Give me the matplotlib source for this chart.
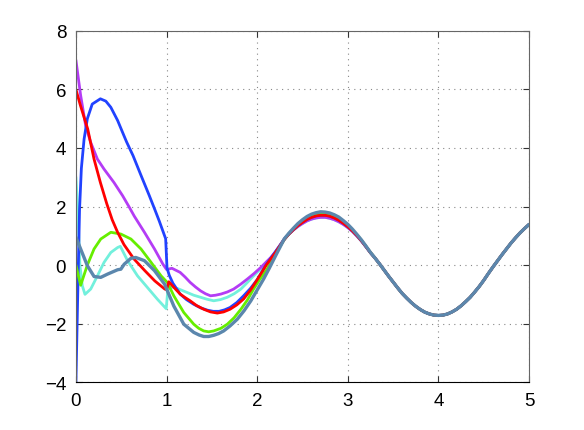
import matplotlib

matplotlib.use("Agg")
import matplotlib.pyplot as plt  # noqa: E402

# transient part of each solution
RED_X = [0, 0.05, 0.13, 0.2, 0.27, 0.34, 0.4, 0.46, 0.53, 0.64, 0.76, 0.87, 0.98, 1.0, 1.025,
         1.08, 1.15, 1.2, 1.26, 1.33, 1.41, 1.485, 1.56, 1.63, 1.7, 1.775, 1.85, 1.925, 2.0, 2.1, 2.2]
RED_Y = [6.0, 5.45, 4.65, 3.62, 2.82, 2.1, 1.55, 1.12, 0.7, 0.21, -0.19, -0.54, -0.82, -0.84, -0.57,
         -0.76, -0.99, -1.1, -1.22, -1.38, -1.51, -1.6, -1.64, -1.6, -1.51, -1.36, -1.16, -0.86, -0.5, 0.0, 0.42]

BLUE_X = [0, 0.02, 0.04, 0.06, 0.09, 0.126, 0.18, 0.27, 0.33, 0.385, 0.46, 0.53, 0.56, 0.63, 0.72,
          0.81, 0.87, 0.92, 0.99, 1.005, 1.03, 1.07, 1.15, 1.22, 1.3, 1.375, 1.45, 1.515, 1.58, 1.64,
          1.7, 1.775, 1.85, 1.925, 2.0, 2.1, 2.2]
BLUE_Y = [-4.0, -1.0, 1.9, 3.3, 4.3, 5.0, 5.5, 5.68, 5.6, 5.39, 4.94, 4.42, 4.2, 3.74, 3.05,
          2.37, 1.9, 1.5, 0.9, -0.1, -0.35, -0.62, -0.99, -1.18, -1.34, -1.46, -1.54, -1.58, -1.58, -1.53,
          -1.45, -1.28, -1.05, -0.8, -0.5, 0.02, 0.45]

PURPLE_X = [0, 0.052, 0.107, 0.163, 0.237, 0.31, 0.42, 0.515, 0.59, 0.644, 0.756, 0.867, 0.96, 1.0,
            1.06, 1.15, 1.205, 1.26, 1.32, 1.375, 1.43, 1.485, 1.54, 1.6, 1.67, 1.74, 1.815, 1.89,
            1.965, 2.04, 2.15, 2.2]
PURPLE_Y = [7.0, 5.8, 4.77, 4.19, 3.62, 3.28, 2.82, 2.37, 1.97, 1.67, 1.12, 0.55, 0.03, -0.15,
            -0.11, -0.25, -0.41, -0.59, -0.75, -0.88, -0.98, -1.05, -1.03, -0.99, -0.92, -0.82, -0.66,
            -0.48, -0.29, -0.08, 0.26, 0.45]

GREEN_X = [0, 0.052, 0.126, 0.2, 0.274, 0.385, 0.496, 0.607, 0.718, 0.83, 0.94, 1.01, 1.08, 1.19,
           1.3, 1.355, 1.41, 1.465, 1.52, 1.6, 1.67, 1.745, 1.82, 1.89, 1.96, 2.03, 2.11, 2.2]
GREEN_Y = [0.0, -0.69, 0.0, 0.55, 0.89, 1.12, 1.06, 0.89, 0.55, 0.09, -0.37, -0.6, -1.05, -1.62,
           -2.02, -2.16, -2.25, -2.28, -2.25, -2.16, -2.02, -1.8, -1.51, -1.2, -0.82, -0.48, -0.14, 0.38]

CYAN_X = [0, 0.02, 0.044, 0.07, 0.1, 0.163, 0.237, 0.31, 0.385, 0.46, 0.49, 0.57, 0.68, 0.79, 0.9,
          0.996, 1.015, 1.06, 1.12, 1.23, 1.3, 1.375, 1.45, 1.52, 1.595, 1.67, 1.745, 1.82, 1.89,
          1.96, 2.035, 2.11, 2.2]
CYAN_Y = [3.0, 1.9, 0.0, -0.7, -1.0, -0.82, -0.37, 0.09, 0.43, 0.6, 0.64, 0.15, -0.37, -0.77, -1.17,
          -1.49, -0.82, -0.75, -0.8, -0.94, -1.03, -1.1, -1.17, -1.22, -1.18, -1.1, -0.98, -0.82, -0.6,
          -0.37, -0.14, 0.09, 0.42]

STEEL_X = [0, 0.052, 0.126, 0.2, 0.274, 0.348, 0.46, 0.496, 0.533, 0.607, 0.66, 0.756, 0.867, 0.978,
           1.08, 1.19, 1.3, 1.36, 1.41, 1.465, 1.52, 1.575, 1.63, 1.7, 1.78, 1.855, 1.93, 2.0, 2.07,
           2.135, 2.2]
STEEL_Y = [0.95, 0.55, -0.02, -0.39, -0.42, -0.31, -0.16, -0.14, 0.03, 0.23, 0.26, 0.15, -0.19, -0.65,
           -1.4, -2.02, -2.3, -2.39, -2.44, -2.44, -2.4, -2.34, -2.25, -2.08, -1.85, -1.56, -1.22, -0.85,
           -0.48, -0.1, 0.3]

# first hump after the transient (slightly different peaks)
HUMP_X = [2.3, 2.35, 2.4, 2.45, 2.5, 2.55, 2.6, 2.65, 2.7, 2.75, 2.8, 2.85, 2.9, 2.95, 3.0, 3.05,
          3.1, 3.15, 3.2, 3.25]
HUMP_STEEL = [0.9, 1.09, 1.26, 1.42, 1.55, 1.66, 1.74, 1.79, 1.82, 1.81, 1.78, 1.72, 1.64, 1.52, 1.39,
              1.23, 1.05, 0.86, 0.65, 0.43]
HUMP_GREEN = [0.88, 1.07, 1.23, 1.38, 1.5, 1.61, 1.68, 1.73, 1.76, 1.75, 1.72, 1.66, 1.58, 1.47, 1.35,
              1.2, 1.03, 0.85, 0.64, 0.43]
HUMP_RED = [0.88, 1.06, 1.21, 1.35, 1.46, 1.56, 1.63, 1.68, 1.7, 1.7, 1.67, 1.61, 1.53, 1.43, 1.31,
            1.17, 1.01, 0.83, 0.63, 0.42]
HUMP_LOW = [0.9, 1.06, 1.2, 1.32, 1.42, 1.51, 1.57, 1.61, 1.63, 1.63, 1.6, 1.55, 1.48, 1.39, 1.28,
            1.15, 0.99, 0.82, 0.62, 0.42]

# shared steady part
TAIL_X = [3.3, 3.35, 3.4, 3.45, 3.5, 3.55, 3.6, 3.65, 3.7, 3.75, 3.8, 3.85, 3.9, 3.95, 4.0, 4.05,
          4.1, 4.15, 4.2, 4.25, 4.3, 4.35, 4.4, 4.45, 4.5, 4.55, 4.6, 4.65, 4.7, 4.75, 4.8, 4.85,
          4.9, 4.95, 5.0]
TAIL_Y = [0.24, 0.04, -0.17, -0.38, -0.58, -0.78, -0.97, -1.13, -1.28, -1.41, -1.52, -1.61, -1.67,
          -1.71, -1.72, -1.71, -1.67, -1.6, -1.51, -1.39, -1.25, -1.1, -0.92, -0.73, -0.52, -0.29,
          -0.07, 0.14, 0.35, 0.55, 0.75, 0.93, 1.1, 1.25, 1.39]

# drawing order: bottom first
SERIES = [
    (CYAN_X, CYAN_Y, HUMP_LOW, "#72f0dc", 2.0),
    (PURPLE_X, PURPLE_Y, HUMP_LOW, "#b43cf5", 2.0),
    (BLUE_X, BLUE_Y, HUMP_RED, "#2142ff", 2.0),
    (GREEN_X, GREEN_Y, HUMP_GREEN, "#66ee00", 2.0),
    (RED_X, RED_Y, HUMP_RED, "#ff0000", 2.0),
    (STEEL_X, STEEL_Y, HUMP_STEEL, "#5b87ad", 2.4),
]

plt.rcParams["font.family"] = ["Liberation Sans", "DejaVu Sans"]

fig = plt.figure(figsize=(5.84, 4.31), dpi=100)
ax = fig.add_axes([0.13, 0.111, 0.776, 0.815])

for xs, ys, hump, color, lw in SERIES:
    ax.plot(xs + HUMP_X + TAIL_X, ys + hump + TAIL_Y, color=color, lw=lw,
            solid_joinstyle="round", solid_capstyle="round")

ax.set_xlim(0, 5)
ax.set_ylim(-4, 8)
ax.set_xticks(range(0, 6))
ax.set_yticks(range(-4, 9, 2))
ax.grid(True, linestyle=(0, (1, 4)), color="#888888", lw=0.8)
ax.tick_params(direction="in", top=True, right=True, labelsize=13.5, length=4,
               color="#333333", pad=7)
for side in ("left", "top", "right"):
    ax.spines[side].set_color("#666666")
ax.spines["bottom"].set_color("black")

fig.savefig("out.png", dpi=100)
